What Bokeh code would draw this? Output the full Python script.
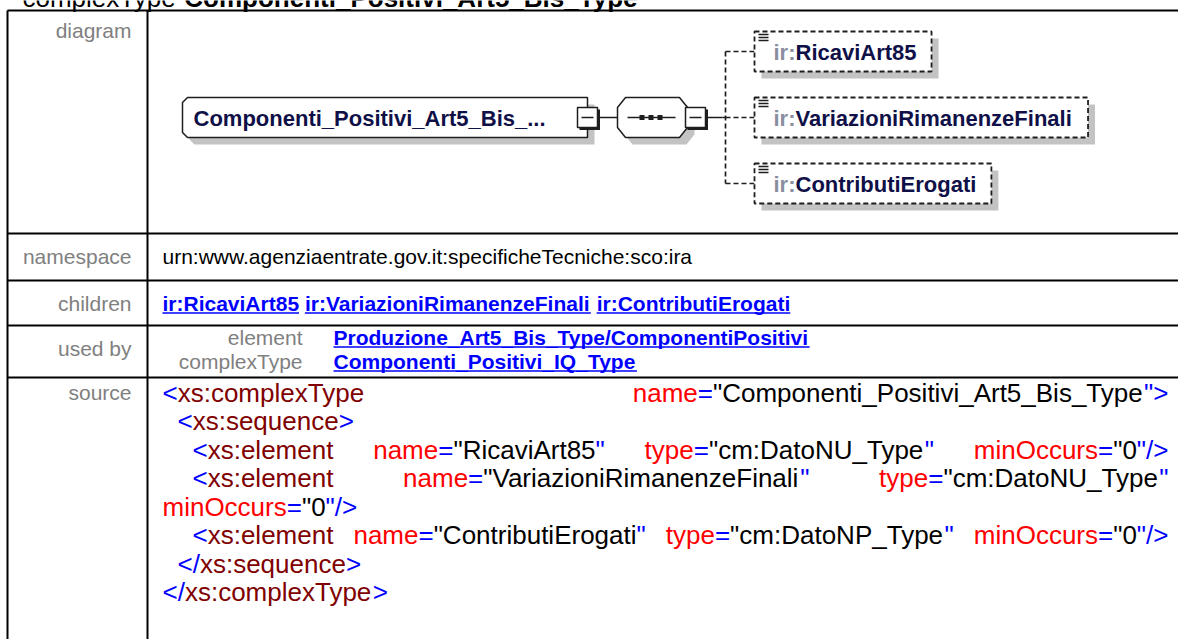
from bokeh.plotting import figure
from bokeh.models import ColumnDataSource, Range1d
from bokeh.embed import file_html
from bokeh.resources import INLINE
from bokeh.core.properties import value

# ---------------- data (content) ----------------
title_kind = "complexType"
title_name = "Componenti_Positivi_Art5_Bis_Type"
row_labels = ["diagram", "namespace", "children", "used by", "source"]
namespace_uri = "urn:www.agenziaentrate.gov.it:specificheTecniche:sco:ira"
ns_prefix = "ir:"
root_label = "Componenti_Positivi_Art5_Bis_..."
child_names = ["RicaviArt85", "VariazioniRimanenzeFinali", "ContributiErogati"]
used_by_kinds = ["element", "complexType"]
used_by_refs = ["Produzione_Art5_Bis_Type/ComponentiPositivi", "Componenti_Positivi_IQ_Type"]
source_lines = [
    '<xs:complexType name="Componenti_Positivi_Art5_Bis_Type">',
    '<xs:sequence>',
    '<xs:element name="RicaviArt85" type="cm:DatoNU_Type" minOccurs="0"/>',
    '<xs:element name="VariazioniRimanenzeFinali" type="cm:DatoNU_Type"',
    'minOccurs="0"/>',
    '<xs:element name="ContributiErogati" type="cm:DatoNP_Type" minOccurs="0"/>',
    '</xs:sequence>',
    '</xs:complexType>',
]
source_indent = [0, 1, 2, 2, 0, 2, 1, 0]
source_justified = [True, False, True, True, False, True, False, False]

# ---------------- layout / style ----------------
W, H = 1178, 639
FONT = "Liberation Sans"
BLACK, GRAY, BLUE, MAROON, RED = "#000000", "#808080", "#0000ff", "#800000", "#ff0000"
NAVY, PREFIX_GRAY, INK, SHADOW = "#101048", "#8a8fa0", "#1e1e1e", "#c3c3c3"
BASELINE_FIX = 0.34   # em: SVG text is drawn this much below the requested alphabetic baseline

TBL_L, TBL_DIV = 7, 147
ROW_LINES = [10, 233, 280, 325, 377]
LABEL_R = 131
LABEL_BASE = [37, 263, 310, 355, 399]
CONTENT_X = 162
BASE_FS = 21

# Arial / Liberation Sans advance widths (1/1000 em)
AR = dict(zip(" \".:/<=>_", [278, 355, 278, 278, 278, 584, 584, 584, 556]))
AR.update({d: 556 for d in "0123456789"})
AR.update(dict(zip("ABCDEFGHIJKLMNOPQRSTUVWXYZ",
                   [667, 667, 722, 722, 667, 611, 778, 722, 278, 500, 667, 556, 833, 722, 778, 667, 778, 722, 667, 611, 722, 667, 944, 667, 667, 611])))
AR.update(dict(zip("abcdefghijklmnopqrstuvwxyz",
                   [556, 556, 500, 556, 556, 278, 556, 556, 222, 222, 500, 222, 833, 556, 556, 556, 556, 333, 500, 278, 556, 500, 722, 500, 500, 500])))
AB = dict(zip(" \".:/<=>_", [278, 474, 278, 333, 278, 584, 584, 584, 556]))
AB.update({d: 556 for d in "0123456789"})
AB.update(dict(zip("ABCDEFGHIJKLMNOPQRSTUVWXYZ",
                   [722, 722, 722, 722, 667, 611, 778, 722, 278, 556, 722, 611, 833, 722, 778, 667, 778, 722, 667, 611, 722, 667, 944, 667, 667, 611])))
AB.update(dict(zip("abcdefghijklmnopqrstuvwxyz",
                   [556, 611, 556, 611, 556, 333, 611, 611, 278, 278, 556, 278, 889, 611, 611, 611, 611, 389, 556, 333, 611, 556, 778, 556, 556, 500])))


def tw(s, size, bold=False):
    t = AB if bold else AR
    return sum(t.get(c, 556) for c in s) * size / 1000.0


p = figure(width=W, height=H, x_range=Range1d(0, W), y_range=Range1d(H, 0),
           output_backend="svg", toolbar_location=None, min_border=0,
           x_axis_location=None, y_axis_location=None,
           styles={"margin": "0px"})
p.grid.visible = False
p.outline_line_color = None
p.background_fill_color = "white"
p.border_fill_color = "white"

texts = {}


def put(x, y, s, color, size, bold=False, align="left"):
    d = texts.setdefault((size, bold, align), dict(x=[], y=[], text=[], color=[]))
    d["x"].append(x)
    d["y"].append(y - BASELINE_FIX * size)
    d["text"].append(s)
    d["color"].append(color)


underlines = dict(x0=[], y0=[], x1=[], y1=[])


def link(x, y, s, size):
    put(x, y, s, BLUE, size, bold=True)
    w = tw(s, size, True)
    underlines["x0"].append(x)
    underlines["x1"].append(x + w)
    underlines["y0"].append(y + 2.5)
    underlines["y1"].append(y + 2.5)
    return w

# ---------------- title (mostly cut off at the top, as in the reference) ----------------
put(22, 6, title_kind, BLACK, 26)
put(22 + tw(title_kind + " ", 26), 6, title_name, BLACK, 26, bold=True)

# ---------------- table grid ----------------
p.segment(x0=[TBL_L] * len(ROW_LINES), x1=[W] * len(ROW_LINES), y0=ROW_LINES, y1=ROW_LINES,
          line_color=BLACK, line_width=2)
p.segment(x0=[TBL_L, TBL_DIV], x1=[TBL_L, TBL_DIV], y0=[ROW_LINES[0]] * 2, y1=[H] * 2,
          line_color=BLACK, line_width=2)

for lab, b in zip(row_labels, LABEL_BASE):
    put(LABEL_R, b, lab, GRAY, BASE_FS, align="right")

# namespace
put(CONTENT_X, LABEL_BASE[1], namespace_uri, BLACK, BASE_FS)

# children links
cx = CONTENT_X
for nm in child_names:
    cx += link(cx, LABEL_BASE[2], ns_prefix + nm, BASE_FS) + tw(" ", BASE_FS, True)

# used by
UB_KIND_R, UB_REF_X, UB_BASE = 302, 333, [344, 368]
for k, r, b in zip(used_by_kinds, used_by_refs, UB_BASE):
    put(UB_KIND_R, b, k, GRAY, BASE_FS, align="right")
    link(UB_REF_X, b, r, BASE_FS)

p.segment(x0="x0", y0="y0", x1="x1", y1="y1", source=ColumnDataSource(underlines),
          line_color=BLUE, line_width=1.5)

# ---------------- source ----------------
SRC_FS, SRC_R, SRC_INDENT, SRC_BASE0, SRC_LH = 26, 1168, 15, 401, 28.5


def segs(tok):
    if tok.startswith("<"):
        op = "</" if tok.startswith("</") else "<"
        body = tok[len(op):]
        cl = ""
        for end in ("/>", ">"):
            if body.endswith(end):
                cl = end
                body = body[:-len(end)]
                break
        out = [(op, BLUE), (body, MAROON)]
        if cl:
            out.append((cl, BLUE))
        return out
    name, val = tok.split("=", 1)
    q = val.rfind('"')
    return [(name, RED), ("=", BLUE), (val[:q], BLACK), (val[q:], BLUE)]


for i, line in enumerate(source_lines):
    words = line.split(" ")
    base = SRC_BASE0 + i * SRC_LH
    x = CONTENT_X + source_indent[i] * SRC_INDENT
    widths = [tw(w, SRC_FS) for w in words]
    if source_justified[i] and len(words) > 1:
        gap = (SRC_R - x - sum(widths)) / (len(words) - 1)
    else:
        gap = tw(" ", SRC_FS)
    for w, ww in zip(words, widths):
        sx = x
        for s, col in segs(w):
            put(sx, base, s, col, SRC_FS)
            sx += tw(s, SRC_FS)
        x += ww + gap

# ---------------- diagram ----------------
SH = 7
DIAG_FS = 22
MID_Y = 117
DASH = "5 3"

# root element box (chamfered left corners)
mx0, mx1, my0, my1, ch = 182, 587, 97, 137, 5
main_x = [mx0 + ch, mx1, mx1, mx0 + ch, mx0, mx0]
main_y = [my0, my0, my1, my1, my1 - ch, my0 + ch]
p.patch([v + SH for v in main_x], [v + SH for v in main_y], fill_color=SHADOW, line_color=None)
p.patch(main_x, main_y, fill_color="white", line_color=INK, line_width=1.5)
put(193, 125, root_label, NAVY, DIAG_FS, bold=True)

# sequence compositor (octagon)
ox0, ox1, oy0, oy1, cx_, cy_ = 617, 687, 97, 137, 8, 10
oct_x = [ox0 + cx_, ox1 - cx_, ox1, ox1, ox1 - cx_, ox0 + cx_, ox0, ox0]
oct_y = [oy0, oy0, oy0 + cy_, oy1 - cy_, oy1, oy1, oy1 - cy_, oy0 + cy_]
p.patch([v + SH for v in oct_x], [v + SH for v in oct_y], fill_color=SHADOW, line_color=None)
p.patch(oct_x, oct_y, fill_color="white", line_color=INK, line_width=1.5)
p.segment(x0=[627], y0=[MID_Y], x1=[675], y1=[MID_Y], line_color=INK, line_width=1.5)
p.rect(x=[641.5, 650.5, 659.5], y=[MID_Y] * 3, width=5, height=5, fill_color=INK, line_color=None)


def minus_box(x0):
    s = 20
    y0 = MID_Y - 10
    p.quad(left=[x0], right=[x0 + s], top=[y0], bottom=[y0 + s], fill_color="white",
           line_color=INK, line_width=1.5)
    p.segment(x0=[x0 + s + 1, x0 + 2], y0=[y0 + 2, y0 + s + 1], x1=[x0 + s + 1, x0 + s + 2.5],
              y1=[y0 + s + 2.5, y0 + s + 1], line_color=INK, line_width=3)
    p.segment(x0=[x0 + 4], y0=[MID_Y], x1=[x0 + s - 4], y1=[MID_Y], line_color=INK, line_width=1.5)


p.segment(x0=[598, 707], y0=[MID_Y] * 2, x1=[617, 722], y1=[MID_Y] * 2, line_color=INK, line_width=1.5)
minus_box(577)
minus_box(685)

# children branch
CH_X0, CH_TXT, CH_TOP0, CH_STEP, CH_H, BR_X = 754, 773, 31, 66, 40, 725
tops = [CH_TOP0 + i * CH_STEP for i in range(len(child_names))]
mids = [t + CH_H / 2 for t in tops]
p.segment(x0=[BR_X] + [BR_X] * len(mids), y0=[mids[0]] + mids,
          x1=[BR_X] + [CH_X0] * len(mids), y1=[mids[-1]] + mids,
          line_color=INK, line_width=1.7, line_dash=DASH)
p.segment(x0=[722], y0=[MID_Y], x1=[BR_X], y1=[MID_Y], line_color=INK, line_width=1.5)

for nm, t in zip(child_names, tops):
    right = CH_TXT + tw(ns_prefix + nm, DIAG_FS, True) + 15
    p.quad(left=[CH_X0 + SH], right=[right + SH], top=[t + SH], bottom=[t + CH_H + SH],
           fill_color=SHADOW, line_color=None)
    p.quad(left=[CH_X0], right=[right], top=[t], bottom=[t + CH_H], fill_color="white",
           line_color=INK, line_width=1.8, line_dash=DASH)
    p.segment(x0=[758] * 3, x1=[768] * 3, y0=[t + 3, t + 6, t + 9], y1=[t + 3, t + 6, t + 9],
              line_color=INK, line_width=1.3)
    put(CH_TXT, t + 28, ns_prefix, PREFIX_GRAY, DIAG_FS, bold=True)
    put(CH_TXT + tw(ns_prefix, DIAG_FS, True), t + 28, nm, NAVY, DIAG_FS, bold=True)

# ---------------- draw texts ----------------
for (size, bold, align), d in texts.items():
    p.text(x="x", y="y", text="text", text_color="color", source=ColumnDataSource(d),
           text_font=value(FONT), text_font_size=f"{size}px",
           text_font_style="bold" if bold else "normal",
           text_align=align, text_baseline="alphabetic")

open("out.html", "w").write(file_html(p, INLINE))
